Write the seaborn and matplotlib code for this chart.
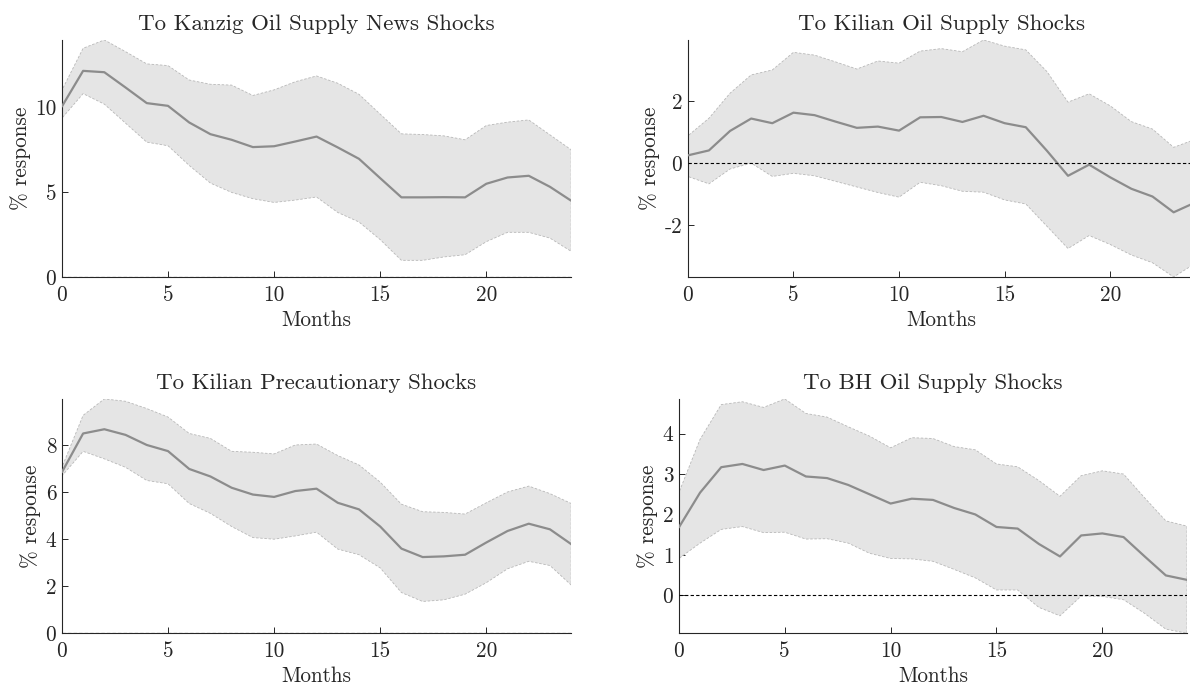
import numpy as np
import pandas as pd
import matplotlib
matplotlib.use('Agg')
import matplotlib.pyplot as plt
from matplotlib.ticker import MultipleLocator
import seaborn as sns

# months after the shock
months = list(range(25))

# panel titles
titles = ['To Kanzig Oil Supply News Shocks', 'To Kilian Oil Supply Shocks',
          'To Kilian Precautionary Shocks', 'To BH Oil Supply Shocks']

# Kanzig oil supply news shocks
kanzig_mid = [10.04, 12.14, 12.06, 11.16, 10.24, 10.08, 9.10, 8.41, 8.08, 7.65, 7.70, 7.98, 8.27,
              7.63, 6.96, 5.82, 4.69, 4.69, 4.70, 4.69, 5.49, 5.86, 5.96, 5.31, 4.49]
kanzig_hi = [11.00, 13.47, 13.96, 13.27, 12.55, 12.45, 11.60, 11.35, 11.30, 10.69, 11.02, 11.50, 11.84,
             11.41, 10.76, 9.59, 8.43, 8.39, 8.31, 8.08, 8.92, 9.12, 9.25, 8.37, 7.49]
kanzig_lo = [9.35, 10.80, 10.18, 9.06, 7.94, 7.73, 6.57, 5.53, 4.98, 4.61, 4.39, 4.53, 4.71,
             3.80, 3.24, 2.20, 0.98, 0.98, 1.18, 1.31, 2.08, 2.63, 2.63, 2.29, 1.51]

# Kilian oil supply shocks
kil_sup_mid = [0.25, 0.41, 1.04, 1.44, 1.29, 1.63, 1.55, 1.34, 1.14, 1.18, 1.05, 1.48, 1.49,
               1.33, 1.53, 1.29, 1.16, 0.40, -0.41, -0.05, -0.46, -0.83, -1.08, -1.59, -1.28]
kil_sup_hi = [0.88, 1.45, 2.26, 2.85, 3.01, 3.58, 3.49, 3.27, 3.04, 3.30, 3.23, 3.62, 3.70,
              3.60, 3.98, 3.78, 3.66, 2.96, 1.97, 2.24, 1.85, 1.34, 1.10, 0.51, 0.76]
kil_sup_lo = [-0.43, -0.67, -0.19, 0.00, -0.43, -0.33, -0.41, -0.59, -0.77, -0.95, -1.10, -0.62, -0.73,
              -0.91, -0.94, -1.19, -1.32, -2.04, -2.76, -2.34, -2.63, -2.97, -3.22, -3.68, -3.25]

# Kilian precautionary shocks
kil_pre_mid = [6.85, 8.50, 8.68, 8.44, 8.01, 7.75, 6.99, 6.67, 6.19, 5.90, 5.80, 6.05, 6.15,
               5.55, 5.27, 4.54, 3.60, 3.24, 3.27, 3.34, 3.86, 4.35, 4.66, 4.42, 3.79]
kil_pre_hi = [7.06, 9.27, 9.97, 9.87, 9.56, 9.20, 8.50, 8.29, 7.74, 7.70, 7.63, 8.01, 8.05,
              7.56, 7.16, 6.43, 5.49, 5.17, 5.14, 5.07, 5.55, 6.01, 6.26, 5.94, 5.52]
kil_pre_lo = [6.69, 7.74, 7.42, 7.06, 6.50, 6.36, 5.52, 5.10, 4.54, 4.07, 4.00, 4.14, 4.30,
              3.58, 3.34, 2.78, 1.73, 1.35, 1.42, 1.66, 2.15, 2.74, 3.06, 2.88, 2.05]

# BH oil supply shocks
bh_mid = [1.68, 2.54, 3.17, 3.25, 3.10, 3.21, 2.94, 2.90, 2.73, 2.50, 2.27, 2.39, 2.36,
          2.16, 2.00, 1.69, 1.65, 1.27, 0.96, 1.48, 1.53, 1.44, 0.96, 0.49, 0.38]
bh_hi = [2.54, 3.86, 4.72, 4.79, 4.65, 4.86, 4.50, 4.41, 4.17, 3.94, 3.65, 3.90, 3.88,
         3.68, 3.60, 3.25, 3.18, 2.84, 2.45, 2.96, 3.08, 3.00, 2.41, 1.84, 1.71]
bh_lo = [0.91, 1.29, 1.63, 1.70, 1.55, 1.56, 1.39, 1.40, 1.29, 1.04, 0.91, 0.90, 0.84,
         0.64, 0.43, 0.13, 0.13, -0.30, -0.51, -0.02, -0.03, -0.11, -0.45, -0.84, -0.94]

# y tick spacing per panel
ytick_steps = [5, 2, 2, 1]

panels = [(kanzig_mid, kanzig_lo, kanzig_hi),
          (kil_sup_mid, kil_sup_lo, kil_sup_hi),
          (kil_pre_mid, kil_pre_lo, kil_pre_hi),
          (bh_mid, bh_lo, bh_hi)]

sns.set_style('ticks')
plt.rcParams['font.family'] = ['cmr10', 'DejaVu Serif']
plt.rcParams['axes.unicode_minus'] = False
plt.rcParams['axes.formatter.use_mathtext'] = False

fig = plt.figure(figsize=(11.9, 6.89), dpi=100)

# axes boxes, figure fraction (left, bottom, width, height)
boxes = [(0.052, 0.598, 0.428, 0.344),
         (0.578, 0.598, 0.426, 0.344),
         (0.052, 0.081, 0.428, 0.340),
         (0.5705, 0.081, 0.427, 0.340)]

fs = 15.3
for (mid, lo, hi), title, box, step in zip(panels, titles, boxes, ytick_steps):
    ax = fig.add_axes(box)
    df = pd.DataFrame({'Months': months, 'mid': mid, 'lo': lo, 'hi': hi})
    ax.fill_between(df['Months'], df['lo'], df['hi'], facecolor='#e5e5e5',
                    edgecolor='#b8b8b8', linestyle=(0, (3, 2)), linewidth=0.6, zorder=1)
    sns.lineplot(data=df, x='Months', y='mid', ax=ax, color='#8c8c8c', linewidth=1.6, zorder=3)
    ax.axhline(0, color='black', linestyle=(0, (3, 2)), linewidth=0.8, zorder=4)
    ax.set_xlim(0, 24)
    ax.set_ylim(min(min(lo), 0), max(max(hi), 0))
    ax.set_xticks([0, 5, 10, 15, 20])
    ax.yaxis.set_major_locator(MultipleLocator(step))
    ax.set_title(title, fontsize=fs * 1.08, pad=7)
    ax.set_xlabel('Months', fontsize=fs, labelpad=4)
    ax.set_ylabel('% response', fontsize=fs, labelpad=3)
    ax.tick_params(direction='in', length=4, width=0.7, labelsize=fs, colors='#262626')
    ax.tick_params(axis='x', pad=6)
    ax.tick_params(axis='y', pad=4)
    for side in ['top', 'right']:
        ax.spines[side].set_visible(False)
    for side in ['left', 'bottom']:
        ax.spines[side].set_color('#262626')
        ax.spines[side].set_linewidth(0.8)

plt.savefig('out.png', dpi=100)
